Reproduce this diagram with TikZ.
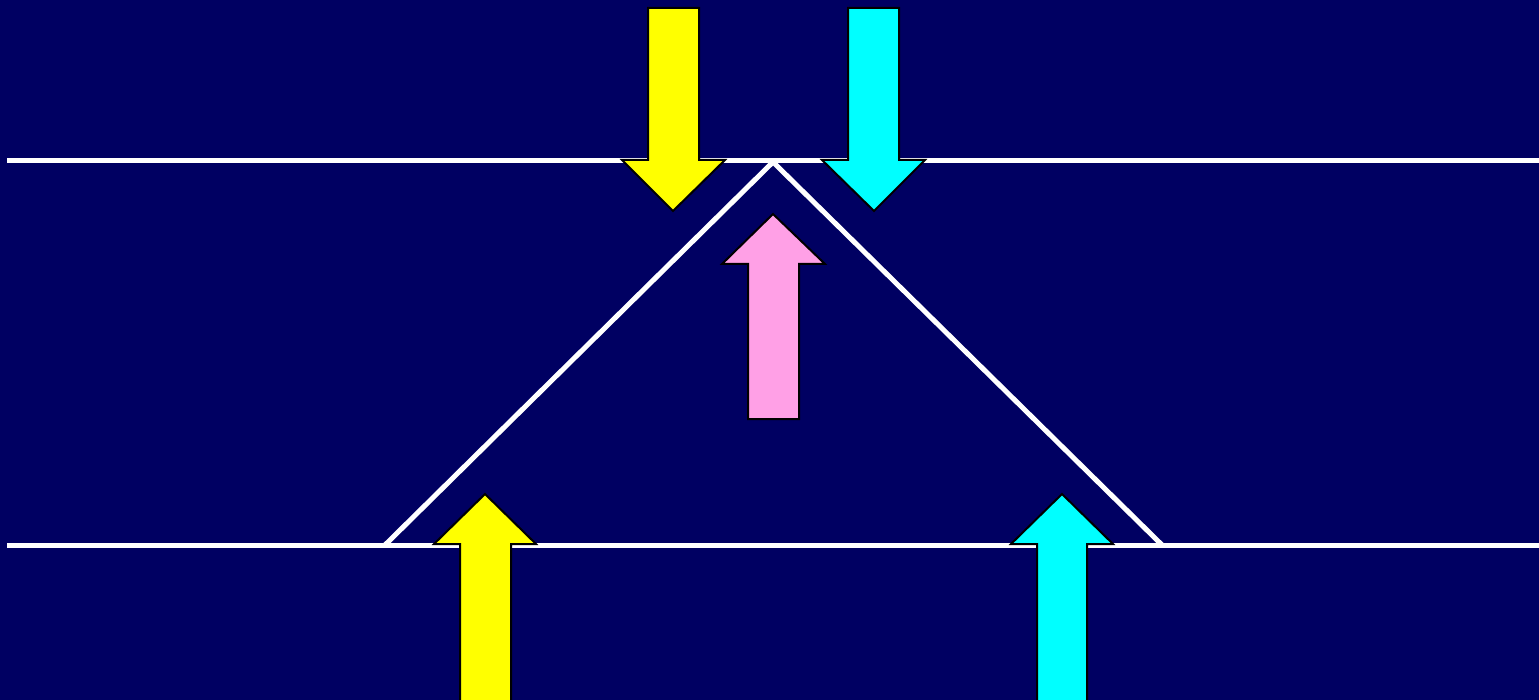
\documentclass[tikz,border=0pt]{standalone}
\definecolor{navy}{RGB}{0,0,98}
\definecolor{ayellow}{RGB}{255,255,0}
\definecolor{acyan}{RGB}{0,255,255}
\definecolor{apink}{RGB}{255,160,230}
\tikzset{
  wline/.style={draw=white, line width=5pt},
  blockarrow/.style={draw=black, line width=2pt, line join=miter},
}
\begin{document}
\begin{tikzpicture}[x=1pt,y=-1pt]
\fill[navy] (0,0) rectangle (1539,700);
\useasboundingbox (0,0) rectangle (1539,700);
% horizontal lines
\coordinate (tl) at (7,160.5);
\coordinate (tr) at (1539,160.5);
\coordinate (bl) at (7,545);
\coordinate (br) at (1539,545);
\coordinate (apex) at (773,162);
\coordinate (lb) at (385,545);
\coordinate (rb) at (1162,545);
\draw[wline] (tl) -- (tr);
\draw[wline] (bl) -- (br);
\draw[wline, line join=miter] (lb) -- (apex) -- (rb);
% down arrows
\draw[blockarrow, fill=ayellow] (648,8) -- (699,8) -- (699,160) -- (725,160) -- (673,211) -- (622,160) -- (648,160) -- cycle;
\draw[blockarrow, fill=acyan] (848,8) -- (899,8) -- (899,160) -- (925,160) -- (874,211) -- (822,160) -- (848,160) -- cycle;
% pink up arrow
\draw[blockarrow, fill=apink] (748,419) -- (799,419) -- (799,264) -- (825,264) -- (773,214) -- (722,264) -- (748,264) -- cycle;
% bottom up arrows
\draw[blockarrow, fill=ayellow] (460,702) -- (511,702) -- (511,544) -- (536,544) -- (485,494) -- (434,544) -- (460,544) -- cycle;
\draw[blockarrow, fill=acyan] (1037,702) -- (1087,702) -- (1087,544) -- (1113,544) -- (1062,494) -- (1011,544) -- (1037,544) -- cycle;
\end{tikzpicture}
\end{document}
